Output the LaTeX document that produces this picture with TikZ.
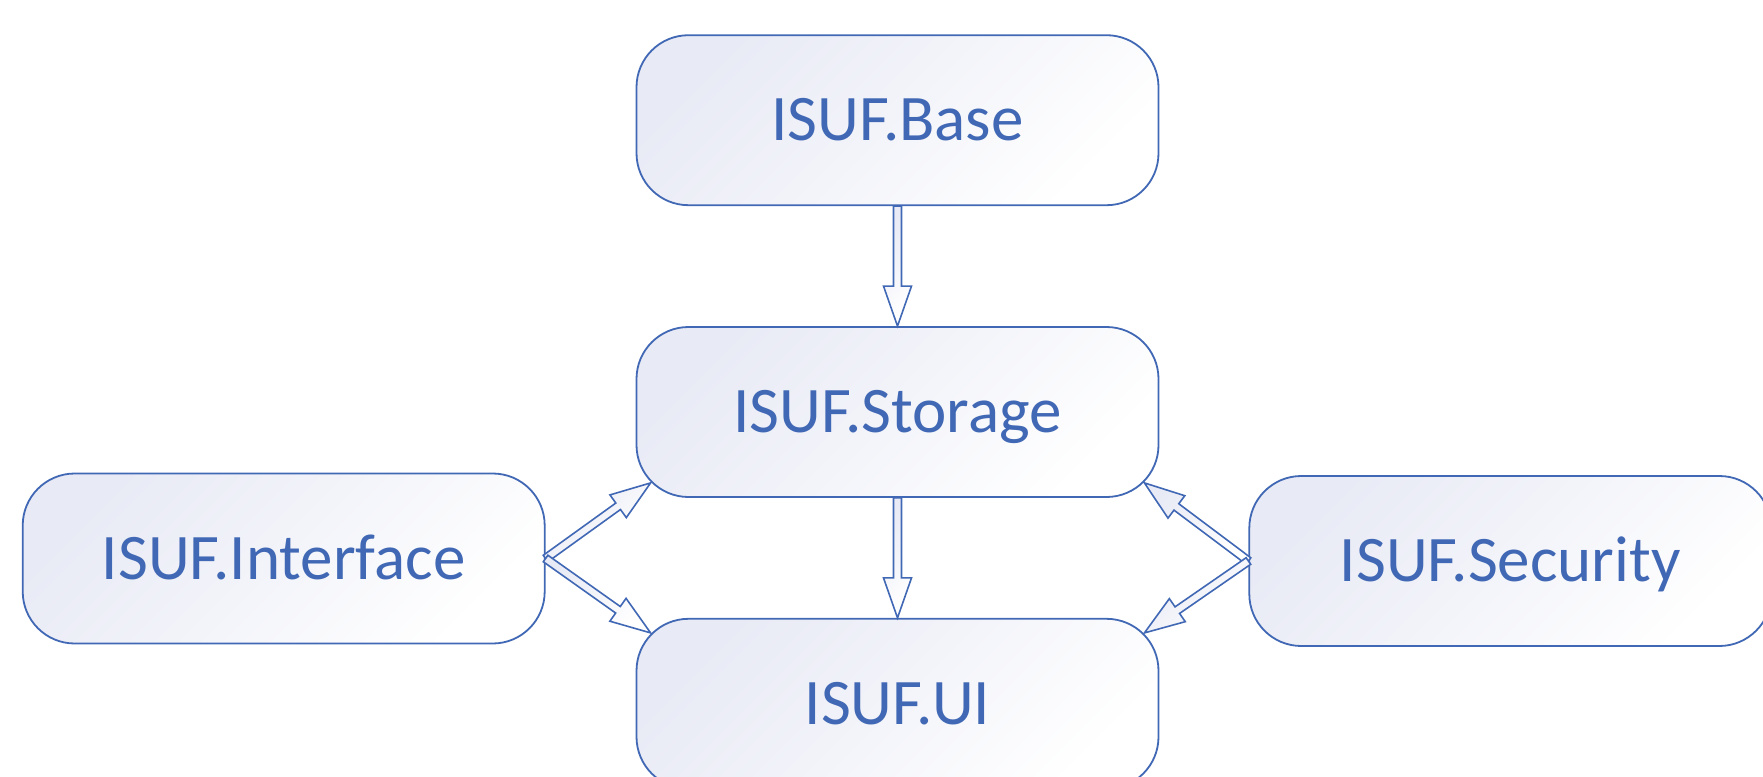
\documentclass[tikz,border=0pt]{standalone}
\usepackage{fontspec}
\setmainfont{Carlito}
\usepackage{xcolor}
\usetikzlibrary{calc}
\usetikzlibrary{positioning}
\definecolor{isufblue}{HTML}{4168B4}
\definecolor{isuffill}{HTML}{E8EAF5}

\newcommand{\openarrow}[2]{%
  \draw[open arrow] let \p1=($(#2)-(#1)$), \n1={atan2(\y1,\x1)} in
    ($(#1)+(\n1+90:4pt)$) -- ($(#2)+(\n1+180:40pt)+(\n1+90:4pt)$)
    -- ($(#2)+(\n1+180:40pt)+(\n1+90:14pt)$) -- (#2)
    -- ($(#2)+(\n1+180:40pt)+(\n1-90:14pt)$) -- ($(#2)+(\n1+180:40pt)+(\n1-90:4pt)$)
    -- ($(#1)+(\n1-90:4pt)$) -- cycle;
}

\begin{document}
\begin{tikzpicture}[
  x=1pt, y=1pt,
  node distance=120pt,
  module/.style={draw=isufblue, line width=1.8pt, rounded corners=52pt,
    minimum width=522pt, minimum height=170pt,
    top color=isuffill, middle color=isuffill!30!white, bottom color=white,
    shading angle=45,
    text=isufblue, font=\fontsize{65}{78}\selectfont,
    text height=41pt, text depth=0pt},
  open arrow/.style={draw=isufblue, line width=1.6pt, line join=miter,
    top color=isuffill, bottom color=white, shading angle=45} % hollow block arrow
]
\useasboundingbox (0,0) rectangle (1763,-776);

\node[module] (storage) at (897.5,-412) {ISUF.Storage};
\node[module, above=of storage] (base) {ISUF.Base};
\node[module, below=of storage] (ui) {ISUF.UI};
\node[module, left=90pt of storage, yshift=-146.5pt] (iface) {ISUF.Interface};
\node[module, right=89pt of storage, yshift=-149pt] (security) {ISUF.Security};

\coordinate (storage-sw) at ($(storage.south west)+(15,15)$);
\coordinate (storage-se) at ($(storage.south east)+(-15,15)$);
\coordinate (ui-nw) at ($(ui.north west)+(15,-15)$);
\coordinate (ui-ne) at ($(ui.north east)+(-15,-15)$);

\openarrow{base.south}{storage.north}
\openarrow{storage.south}{ui.north}
\openarrow{iface.east}{storage-sw}
\openarrow{iface.east}{ui-nw}
\openarrow{security.west}{storage-se}
\openarrow{security.west}{ui-ne}
\end{tikzpicture}
\end{document}
